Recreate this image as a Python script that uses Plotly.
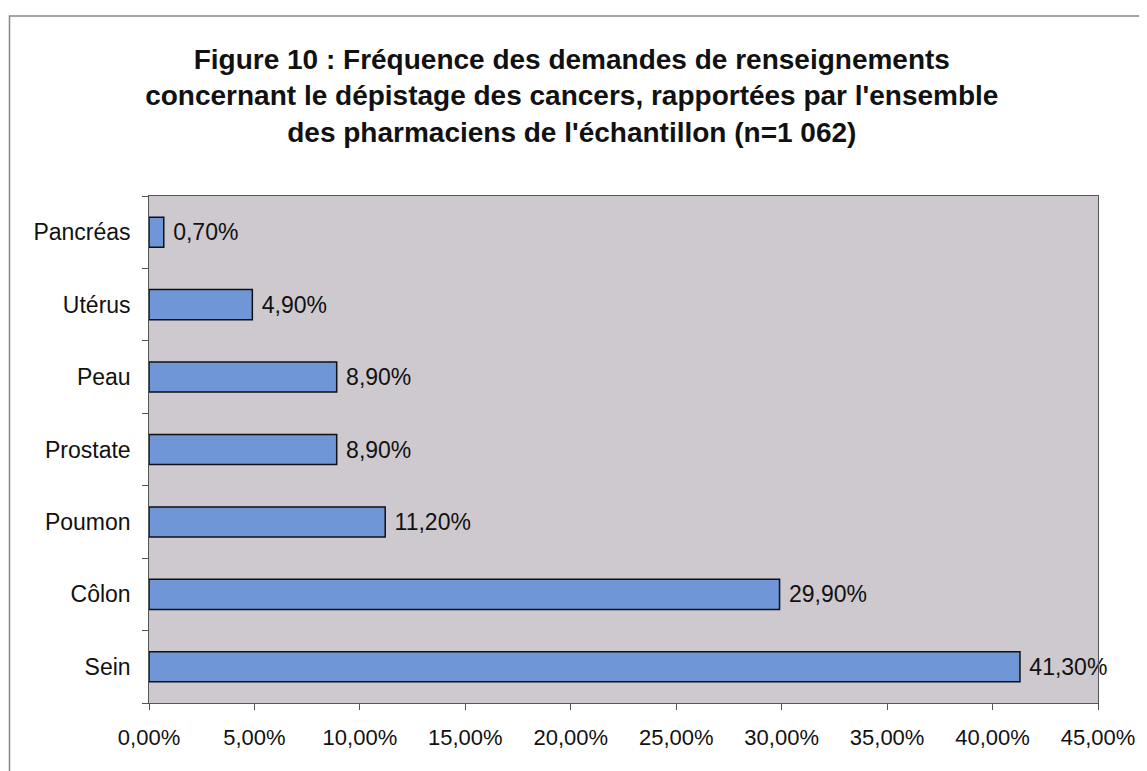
import plotly.graph_objects as go

categories = ["Sein", "Côlon", "Poumon", "Prostate", "Peau", "Utérus", "Pancréas"]
values = [0.413, 0.299, 0.112, 0.089, 0.089, 0.049, 0.007]
x_ticks = [0, 0.05, 0.10, 0.15, 0.20, 0.25, 0.30, 0.35, 0.40, 0.45]

title_text = ("Figure 10 : Fréquence des demandes de renseignements<br>"
              "concernant le dépistage des cancers, rapportées par l'ensemble<br>"
              "des pharmaciens de l'échantillon (n=1 062)")

FONT = "Liberation Sans, Arial, sans-serif"

fig = go.Figure()
fig.add_trace(go.Bar(
    y=categories,
    x=values,
    orientation="h",
    marker=dict(color="#6f96d6", line=dict(color="#111111", width=1.5)),
    texttemplate=" %{x:.2%}",
    textposition="outside",
    textfont=dict(color="#111111", size=23),
    constraintext="none",
    cliponaxis=False,
))

# page body has an 8px margin, so the figure is a little smaller than the window
fig.update_layout(
    width=1139,
    height=763,
    separators=", ",
    font=dict(family=FONT, color="#111111"),
    title=dict(text=title_text, x=0.495, xref="container", xanchor="center",
               y=0.92, yanchor="middle",
               font=dict(size=28, color="#111111", family=FONT, weight="bold")),
    paper_bgcolor="white",
    plot_bgcolor="#cdc9cf",
    margin=dict(l=141, r=46, t=188, b=68),
    showlegend=False,
    bargap=0.585,
    xaxis=dict(
        range=[0, 0.45],
        tickvals=x_ticks,
        tickformat=".2%",
        ticks="outside", ticklen=6, tickcolor="#555555",
        ticklabelstandoff=9,
        showgrid=False, zeroline=False,
        showline=True, linecolor="#555555", linewidth=1, mirror=True,
        tickfont=dict(size=22),
    ),
    yaxis=dict(
        ticks="outside", ticklen=6, tickcolor="#555555",
        tickson="boundaries",
        showgrid=False,
        showline=True, linecolor="#555555", linewidth=1, mirror=True,
        tickfont=dict(size=23),
        ticksuffix="  ",
    ),
    shapes=[dict(type="rect", xref="paper", yref="paper",
                 x0=-0.147, x1=1.2, y0=-0.3, y1=1.355,
                 line=dict(color="#888888", width=1.5), layer="below")],
)

fig.write_html("out.html")
